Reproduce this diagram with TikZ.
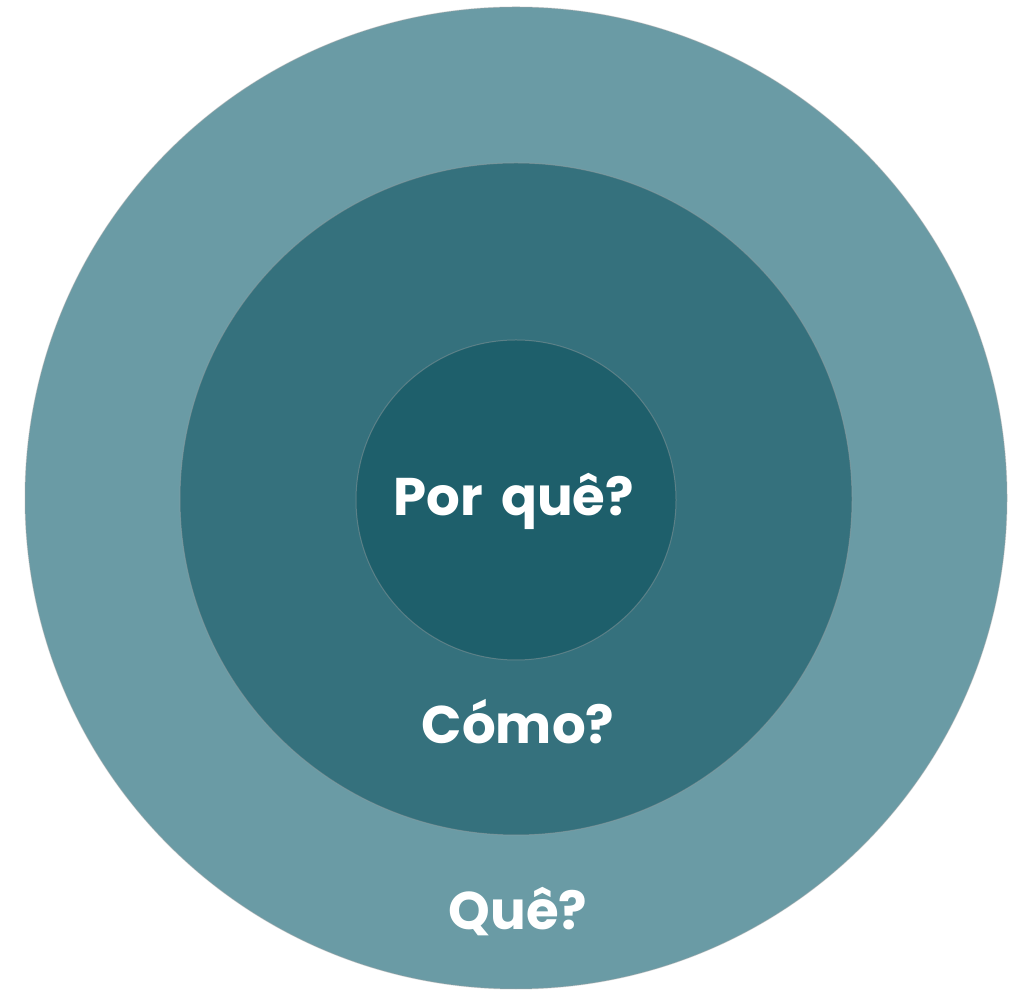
\documentclass[tikz,border=0pt]{standalone}
\usepackage{fontspec}
\setmainfont{Poppins}
\begin{document}
\begin{tikzpicture}[x=1pt,y=1pt,
  ring/.style={circle, inner sep=0pt, draw=black!35, draw opacity=0.4, line width=1pt},
  lbl/.style={text=white, font=\fontsize{53}{60}\selectfont\bfseries, inner sep=0pt}]
\useasboundingbox (0,0) rectangle (1024,1000);
\definecolor{outerc}{HTML}{6A9BA5}
\definecolor{midc}{HTML}{35717D}
\definecolor{innerc}{HTML}{1E5F6B}
\node[ring, fill=outerc, minimum size=982pt] (outer) at (516,502) {};
\node[ring, fill=midc, minimum size=672pt] (mid) at (516,501) {};
\node[ring, fill=innerc, minimum size=320pt] (inner) at (516,500) {};
\node[lbl, anchor=base] (why) at (514,484) {Por\hspace{0.34em}quê?};
\node[lbl, anchor=base] (how) at (518,256) {Cómo?};
\node[lbl, anchor=base] (what) at (518,70) {Quê?};
\end{tikzpicture}
\end{document}
